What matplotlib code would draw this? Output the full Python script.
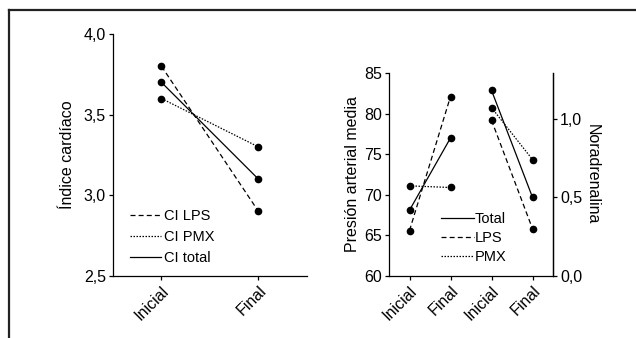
import matplotlib.pyplot as plt
from matplotlib.lines import Line2D

plt.rcParams['font.family'] = ['Liberation Sans', 'DejaVu Sans']
plt.rcParams['font.size'] = 12

momentos = ["Inicial", "Final"]

# Indice cardiaco
ci_lps = [3.8, 2.9]
ci_pmx = [3.6, 3.3]
ci_total = [3.7, 3.1]

# Presion arterial media
pam_total = [68.1, 77.0]
pam_lps = [65.6, 82.1]
pam_pmx = [71.1, 70.9]

# Noradrenalina
nor_total = [1.18, 0.50]
nor_lps = [0.99, 0.30]
nor_pmx = [1.07, 0.74]

estilo = {"solid": "-", "dash": (0, (4, 2.5)), "dot": (0, (1.2, 1.2))}

W, H = 636, 338
fig = plt.figure(figsize=(W / 100, H / 100), dpi=100)

# marco
fig.add_artist(Line2D([9 / W, 9 / W], [0, 1 - 10 / H], color="#222222", lw=1.6))
fig.add_artist(Line2D([9 / W, 1], [1 - 10 / H, 1 - 10 / H], color="#222222", lw=1.6))


def estilo_ejes(ax, derecha=False):
    ax.spines["top"].set_visible(False)
    if not derecha:
        ax.spines["right"].set_visible(False)
    for s in ax.spines.values():
        s.set_linewidth(0.9)
    ax.tick_params(direction="out", length=3, width=0.9, labelsize=11.5, pad=2)


def serie(ax, x, y, ls, label):
    ax.plot(x, y, color="black", lw=0.9, linestyle=ls, label=label)
    ax.plot(x, y, "o", color="black", ms=4.5, linestyle="none")


# panel izquierdo
ax1 = fig.add_axes([113 / W, 1 - 276 / H, 194 / W, 242 / H])
estilo_ejes(ax1)
x = [0, 1]
serie(ax1, x, ci_lps, estilo["dash"], "CI LPS")
serie(ax1, x, ci_pmx, estilo["dot"], "CI PMX")
serie(ax1, x, ci_total, estilo["solid"], "CI total")
ax1.set_xlim(-0.5, 1.5)
ax1.set_ylim(2.5, 4.0)
ax1.set_yticks([2.5, 3.0, 3.5, 4.0])
ax1.set_yticklabels(["2,5", "3,0", "3,5", "4,0"])
ax1.set_xticks(x)
ax1.set_xticklabels(momentos, rotation=45, ha="right", rotation_mode="anchor")
ax1.set_ylabel("Índice cardíaco", fontsize=11.5, labelpad=6)
ax1.legend(loc="lower left", bbox_to_anchor=(0.06, 0.02), frameon=False,
           fontsize=10.5, handlelength=2.1, handletextpad=0.2,
           labelspacing=0.5, borderaxespad=0)

# panel derecho
ax2 = fig.add_axes([389 / W, 1 - 276 / H, 164 / W, 203 / H])
estilo_ejes(ax2, derecha=True)
ax3 = ax2.twinx()
ax3.spines["top"].set_visible(False)
ax3.spines["left"].set_visible(False)
ax3.spines["bottom"].set_visible(False)
ax3.spines["right"].set_linewidth(0.9)
ax3.tick_params(direction="out", length=3, width=0.9, labelsize=11.5, pad=2)

serie(ax2, [0, 1], pam_total, estilo["solid"], "Total")
serie(ax2, [0, 1], pam_lps, estilo["dash"], "LPS")
serie(ax2, [0, 1], pam_pmx, estilo["dot"], "PMX")
serie(ax3, [2, 3], nor_total, estilo["solid"], None)
serie(ax3, [2, 3], nor_lps, estilo["dash"], None)
serie(ax3, [2, 3], nor_pmx, estilo["dot"], None)

ax2.set_xlim(-0.5, 3.5)
ax2.set_ylim(60, 85)
ax2.set_yticks([60, 65, 70, 75, 80, 85])
ax2.set_xticks([0, 1, 2, 3])
ax2.set_xticklabels(momentos * 2, rotation=45, ha="right", rotation_mode="anchor")
ax2.set_ylabel("Presión arterial media", fontsize=11.5, labelpad=3)
ax3.set_ylim(0, 1.29)
ax3.set_yticks([0.0, 0.5, 1.0])
ax3.set_yticklabels(["0,0", "0,5", "1,0"])
ax3.set_ylabel("Noradrenalina", fontsize=11.5, rotation=-90, labelpad=13)
ax2.legend(loc="lower left", bbox_to_anchor=(0.28, 0.03), frameon=False,
           fontsize=10.5, handlelength=2.3, handletextpad=0.0,
           labelspacing=0.35, borderaxespad=0)

fig.savefig("out.png", dpi=100)
